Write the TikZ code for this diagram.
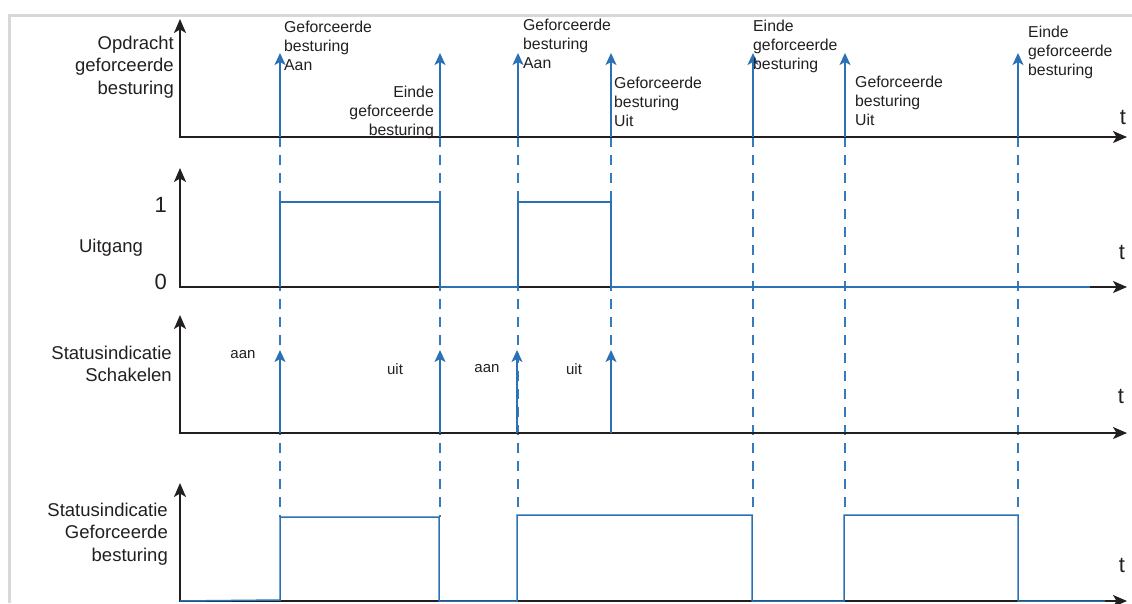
\documentclass[tikz,border=0pt]{standalone}
\usepackage{fontspec}
\setmainfont{Liberation Sans}
\usetikzlibrary{arrows.meta}
\definecolor{sigblue}{RGB}{42,114,181}
\definecolor{dashblue}{RGB}{52,122,188}
\definecolor{axisblack}{RGB}{35,31,32}
\definecolor{framegray}{RGB}{216,216,216}
\begin{document}
\begin{tikzpicture}[x=1pt,y=-1pt,
  axtip/.tip={Stealth[length=14pt,width=12pt,inset=3.5pt]},
  bltip/.tip={Stealth[length=12pt,width=11pt,inset=3pt]},
  axis/.style={draw=axisblack, line width=1.5pt, axtip-axtip},
  sig/.style={draw=sigblue, line width=1.5pt, line join=miter},
  pulse/.style={draw=sigblue, line width=1.5pt, -bltip},
  guide/.style={draw=dashblue, line width=1.2pt, dash pattern=on 10pt off 8pt},
  ylab/.style={font=\fontsize{18.5}{22.5}\selectfont, text=axisblack, inner sep=0pt},
  evlab/.style={font=\fontsize{15.8}{19}\selectfont, text=axisblack, inner sep=0pt},
  smlab/.style={font=\fontsize{15}{18}\selectfont, text=axisblack, inner sep=0pt},
  tlab/.style={font=\fontsize{22}{24}\selectfont, text=axisblack, inner sep=0pt},
  numlab/.style={font=\fontsize{22}{24}\selectfont, text=axisblack, inner sep=0pt}
]
\useasboundingbox (0,0) rectangle (1132,603);
% frame
\coordinate (fbl) at (9,603);
\coordinate (ftl) at (9,15);
\coordinate (ftr) at (1132,15);
\draw[framegray, line width=3pt] (fbl) -- (ftl) -- (ftr);

% axis coordinates
\coordinate (top1) at (180,19);  \coordinate (o1) at (180,137); \coordinate (e1) at (1127,137);
\coordinate (top2) at (180,168); \coordinate (o2) at (180,287); \coordinate (e2) at (1127,287);
\coordinate (top3) at (180,315); \coordinate (o3) at (180,433); \coordinate (e3) at (1127,433);
\coordinate (top4) at (180,483); \coordinate (o4) at (180,601); \coordinate (e4) at (1127,601);

% dashed guides
\coordinate (g1a) at (280,137); \coordinate (g1b) at (280,517);
\coordinate (g2a) at (440,137); \coordinate (g2b) at (440,517);
\coordinate (g3a) at (518,137); \coordinate (g3b) at (518,515);
\coordinate (g4a) at (611,137); \coordinate (g4b) at (611,433);
\coordinate (g5a) at (753,137); \coordinate (g5b) at (753,515);
\coordinate (g6a) at (845,137); \coordinate (g6b) at (845,515);
\coordinate (g7a) at (1018,137); \coordinate (g7b) at (1018,515);
\foreach \g in {1,...,7}{\draw[guide] (g\g a) -- (g\g b);}

% axes
\draw[axis] (top1) -- (o1) -- (e1);
\draw[axis] (top2) -- (o2) -- (e2);
\draw[axis] (top3) -- (o3) -- (e3);
\draw[axis] (top4) -- (o4) -- (e4);

% panel 1 command arrows
\foreach \x [count=\i] in {280,440,518,611,753,845,1018}{
  \coordinate (p1b\i) at (\x,137);
  \coordinate (p1t\i) at (\x,53);
  \draw[pulse] (p1b\i) -- (p1t\i);
}

% panel 2 output
\draw[sig] (280,287) -- (280,202) -- (440,202) -- (440,287) -- (518,287)
  -- (518,202) -- (611,202) -- (611,287) -- (1090,287);

% panel 3 switching arrows
\foreach \x [count=\i] in {280,440,517,611}{
  \coordinate (p3b\i) at (\x,433);
  \coordinate (p3t\i) at (\x,350);
  \draw[pulse] (p3b\i) -- (p3t\i);
}

% panel 4 status forced control
\draw[sig] (180,601) -- (280,600) -- (280,517) -- (439,517) -- (439,601) -- (517,601)
  -- (517,515) -- (752,515) -- (752,601) -- (844,601) -- (844,515) -- (1018,515)
  -- (1018,601) -- (1105,601);

% y labels
\node[ylab, anchor=east, align=right] (l1) at (174,67) {Opdracht\\geforceerde\\besturing};
\node[ylab] (l2) at (111,248) {Uitgang};
\node[numlab, anchor=east] (n1) at (167,205) {1};
\node[numlab, anchor=east] (n0) at (167,282) {0};
\node[ylab, anchor=east, align=right] (l3) at (172,364) {Statusindicatie\\Schakelen};
\node[ylab, anchor=east, align=right] (l4) at (168,534) {Statusindicatie\\Geforceerde\\besturing};

% t labels
\node[tlab] (t1) at (1123,117) {t};
\node[tlab] (t2) at (1122,252) {t};
\node[tlab] (t3) at (1121,396) {t};
\node[tlab] (t4) at (1122,565) {t};

% event labels
\node[evlab, anchor=west, align=left] (a1) at (284,46) {Geforceerde\\besturing\\Aan};
\node[evlab, anchor=east, align=right] (x1) at (434,112) {Einde\\geforceerde\\besturing};
\node[evlab, anchor=west, align=left] (a2) at (523,44) {Geforceerde\\besturing\\Aan};
\node[evlab, anchor=west, align=left] (u1) at (614,102) {Geforceerde\\besturing\\Uit};
\node[evlab, anchor=west, align=left] (x2) at (753,46) {Einde\\geforceerde\\besturing};
\node[evlab, anchor=west, align=left] (u2) at (855,101) {Geforceerde\\besturing\\Uit};
\node[evlab, anchor=west, align=left] (x3) at (1028,52) {Einde\\geforceerde\\besturing};

% switching labels
\node[smlab] (s1) at (243,355) {aan};
\node[smlab] (s2) at (395,369) {uit};
\node[smlab] (s3) at (487,369) {aan};
\node[smlab] (s4) at (574,369) {uit};
\end{tikzpicture}
\end{document}
